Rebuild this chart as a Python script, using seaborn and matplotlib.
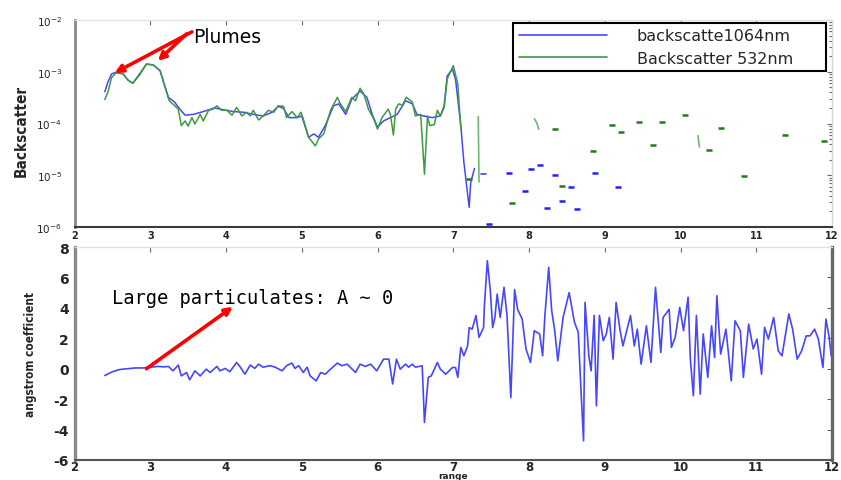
import matplotlib
matplotlib.use("Agg")
import matplotlib.pyplot as plt
import seaborn as sns
import pandas as pd
from matplotlib.lines import Line2D
from matplotlib.ticker import FixedLocator, LogLocator, NullFormatter

# ---------------- data ----------------
# backscatter at 1064 nm, continuous part
bs1064_range = [2.40, 2.44, 2.49, 2.55, 2.64, 2.71, 2.77, 2.86, 2.95, 3.04, 3.13, 3.19,
                3.24, 3.32, 3.39, 3.46, 3.57, 3.70, 3.85, 3.96, 4.10, 4.23, 4.36, 4.49,
                4.61, 4.69, 4.76, 4.83, 4.94, 5.00, 5.09, 5.16, 5.22, 5.31, 5.42, 5.49,
                5.58, 5.66, 5.77, 5.86, 5.93, 6.00, 6.08, 6.17, 6.26, 6.37, 6.46, 6.52,
                6.61, 6.72, 6.83, 6.88, 6.92, 6.99, 7.03, 7.10, 7.14, 7.21, 7.23, 7.28]
bs1064 = [4.1e-4, 6.3e-4, 9.1e-4, 9.8e-4, 9.1e-4, 6.8e-4, 6.0e-4, 9.1e-4, 1.41e-3, 1.35e-3,
          1.05e-3, 5.4e-4, 3.2e-4, 2.6e-4, 1.9e-4, 1.45e-4, 1.5e-4, 1.7e-4, 2.0e-4, 1.85e-4,
          1.7e-4, 1.65e-4, 1.5e-4, 1.4e-4, 1.65e-4, 2.15e-4, 1.95e-4, 1.3e-4, 1.3e-4, 1.4e-4,
          5.4e-5, 6.3e-5, 5.4e-5, 9.1e-5, 2.2e-4, 2.4e-4, 1.5e-4, 2.95e-4, 4.25e-4, 3.2e-4,
          1.5e-4, 8.5e-5, 1.12e-4, 1.3e-4, 1.5e-4, 2.75e-4, 2.4e-4, 1.5e-4, 1.4e-4, 1.3e-4,
          1.4e-4, 2.2e-4, 8.3e-4, 1.12e-3, 7.2e-4, 9.1e-5, 1.8e-5, 2.4e-6, 7.2e-6, 1.35e-5]

# backscatter at 532 nm, continuous part
bs532_range = [2.40, 2.44, 2.49, 2.55, 2.64, 2.71, 2.77, 2.86, 2.95, 3.04, 3.13, 3.19,
               3.25, 3.37, 3.41, 3.46, 3.50, 3.55, 3.59, 3.66, 3.70, 3.77, 3.83, 3.88,
               3.94, 4.01, 4.08, 4.14, 4.21, 4.27, 4.32, 4.36, 4.43, 4.49, 4.56, 4.63,
               4.69, 4.76, 4.80, 4.87, 4.94, 4.99, 5.02, 5.09, 5.18, 5.22, 5.29, 5.38,
               5.47, 5.51, 5.58, 5.66, 5.71, 5.77, 5.82, 5.88, 5.95, 6.00, 6.06, 6.14,
               6.17, 6.21, 6.24, 6.28, 6.33, 6.38, 6.46, 6.50, 6.57, 6.62, 6.66, 6.69,
               6.75, 6.79, 6.83, 6.88, 6.92, 7.00, 7.06, 7.10]
bs532 = [2.9e-4, 4.0e-4, 7.8e-4, 9.5e-4, 9.1e-4, 6.8e-4, 6.0e-4, 8.7e-4, 1.41e-3, 1.35e-3,
         1.05e-3, 5.4e-4, 2.75e-4, 1.9e-4, 9.1e-5, 1.12e-4, 8.9e-5, 1.3e-4, 9.8e-5, 1.5e-4,
         1.12e-4, 1.8e-4, 1.9e-4, 2.2e-4, 1.8e-4, 1.8e-4, 1.45e-4, 2.05e-4, 1.4e-4, 1.65e-4,
         1.4e-4, 1.8e-4, 1.17e-4, 1.4e-4, 1.8e-4, 1.65e-4, 2.2e-4, 2.15e-4, 1.3e-4, 1.7e-4,
         1.3e-4, 1.65e-4, 1.23e-4, 5.4e-5, 3.7e-5, 5.0e-5, 6.3e-5, 1.8e-4, 3.2e-4, 2.4e-4,
         1.7e-4, 3.2e-4, 2.75e-4, 4.8e-4, 3.7e-4, 1.9e-4, 1.23e-4, 7.8e-5, 1.3e-4, 1.9e-4,
         1.5e-4, 6.0e-5, 1.9e-4, 2.4e-4, 2.25e-4, 3.2e-4, 2.6e-4, 1.4e-4, 1.5e-4, 1.05e-5,
         1.4e-4, 9.1e-5, 9.5e-5, 1.8e-4, 1.4e-4, 2.05e-4, 7.2e-4, 1.32e-3, 5.8e-4, 8.0e-5]

# short fragments beyond the cloud edge
bs1064_frag_range = [7.36, 7.43]
bs1064_frag = [1.05e-5, 1.05e-5]
bs532_frag1_range = [7.33, 7.34]
bs532_frag1 = [1.35e-4, 7.4e-6]
bs532_frag2_range = [8.07, 8.10, 8.13]
bs532_frag2 = [1.23e-4, 1.05e-4, 7.8e-5]
bs532_frag3_range = [10.23, 10.25]
bs532_frag3 = [5.8e-5, 3.5e-5]

# isolated samples
bs1064_pts_range = [7.47, 7.74, 7.95, 8.03, 8.15, 8.24, 8.34, 8.43, 8.55, 8.64, 8.87, 9.17]
bs1064_pts = [1.15e-6, 1.1e-5, 5.0e-6, 1.35e-5, 1.6e-5, 2.35e-6, 1.02e-5, 3.2e-6, 6.0e-6,
              2.25e-6, 1.1e-5, 6.0e-6]
bs532_pts_range = [7.21, 7.77, 8.34, 8.43, 8.84, 9.10, 9.22, 9.45, 9.64, 9.76, 10.06, 10.37,
                   10.54, 10.84, 11.38, 11.89]
bs532_pts = [8.5e-6, 2.95e-6, 7.8e-5, 6.3e-6, 2.9e-5, 9.5e-5, 6.9e-5, 1.05e-4, 3.8e-5,
             1.05e-4, 1.45e-4, 3.1e-5, 8.1e-5, 9.5e-6, 5.9e-5, 4.5e-5]

# angstrom coefficient
ang_range = [2.40, 2.50, 2.60, 2.70, 2.80, 2.90, 3.00, 3.10, 3.18, 3.24, 3.30, 3.37, 3.41,
             3.48, 3.52, 3.59, 3.66, 3.74, 3.79, 3.88, 3.92, 3.99, 4.05, 4.14, 4.19, 4.25,
             4.32, 4.38, 4.43, 4.49, 4.58, 4.65, 4.74, 4.80, 4.87, 4.91, 4.96, 5.02, 5.07,
             5.11, 5.19, 5.25, 5.31, 5.38, 5.47, 5.53, 5.60, 5.71, 5.77, 5.84, 5.91, 5.99,
             6.08, 6.15, 6.20, 6.25, 6.30, 6.37, 6.41, 6.46, 6.50, 6.59, 6.62, 6.67, 6.71,
             6.79, 6.83, 6.90, 6.99, 7.03, 7.06, 7.10, 7.14, 7.19, 7.21, 7.25, 7.30, 7.34,
             7.40, 7.41, 7.45, 7.49, 7.52, 7.55, 7.58, 7.62, 7.67, 7.71, 7.76, 7.81, 7.85,
             7.91, 7.96, 8.02, 8.07, 8.14, 8.18, 8.21, 8.26, 8.30, 8.34, 8.38, 8.45, 8.53,
             8.60, 8.65, 8.69, 8.72, 8.74, 8.79, 8.82, 8.86, 8.89, 8.93, 8.98, 9.02, 9.06,
             9.11, 9.15, 9.20, 9.24, 9.34, 9.39, 9.43, 9.48, 9.55, 9.61, 9.67, 9.74, 9.77,
             9.85, 9.88, 9.93, 9.99, 10.04, 10.10, 10.13, 10.17, 10.21, 10.26, 10.30, 10.36,
             10.41, 10.45, 10.48, 10.53, 10.60, 10.67, 10.72, 10.79, 10.83, 10.90, 10.96,
             11.01, 11.07, 11.11, 11.16, 11.23, 11.29, 11.34, 11.43, 11.48, 11.54, 11.60,
             11.66, 11.71, 11.77, 11.82, 11.88, 11.92, 11.96, 11.99, 12.00]
angstrom = [-0.45, -0.20, -0.05, 0.00, 0.05, 0.05, 0.10, 0.15, 0.12, 0.15, -0.14, 0.24, -0.47,
            -0.25, -0.73, -0.14, -0.47, -0.03, -0.25, 0.15, -0.14, 0.02, -0.20, 0.41, 0.10, -0.36,
            0.24, 0.02, 0.30, 0.10, 0.20, 0.10, -0.14, 0.20, 0.37, 0.02, 0.20, -0.25, 0.10,
            -0.47, -0.80, -0.25, -0.36, -0.03, 0.37, 0.20, 0.30, -0.25, 0.30, 0.15, 0.30, -0.14,
            0.63, 0.63, -1.00, 0.63, -0.03, 0.30, 0.10, 0.30, 0.10, 0.19, -3.53, -0.57, -0.47,
            0.41, -0.03, -0.36, 0.08, 0.08, -0.57, 1.40, 0.85, 1.50, 2.70, 2.60, 3.50, 2.06,
            2.70, 4.03, 7.10, 5.10, 2.70, 3.37, 4.90, 3.37, 5.35, 3.50, -1.90, 5.20, 3.90,
            3.26, 1.30, 0.41, 2.50, 2.28, 0.85, 3.50, 6.66, 3.80, 2.50, 0.52, 3.37, 5.00,
            3.05, 2.40, -1.78, -4.74, 4.36, 0.85, -0.14, 3.50, -2.44, 3.50, 1.84, 2.28, 3.37,
            0.63, 4.36, 2.60, 1.50, 3.50, 1.50, 2.60, 0.30, 2.82, 0.41, 5.35, 1.07, 3.37,
            3.90, 1.40, 2.06, 4.03, 2.50, 4.70, 0.63, -1.78, 3.50, -1.67, 2.28, -0.57,
            2.82, 0.74, 4.80, 0.96, 2.60, -0.80, 3.15, 2.50, -0.57, 2.93, 1.30,
            1.95, -0.36, 2.72, 1.95, 3.37, 1.18, 0.85, 3.60, 2.60, 0.63, 1.18,
            2.16, 2.16, 2.60, 1.95, 0.08, 3.26, 2.16, 0.85, 0.96]

x_ticks = [2, 3, 4, 5, 6, 7, 8, 9, 10, 11, 12]
bs_ticks = [1e-6, 1e-5, 1e-4, 1e-3, 1e-2]
bs_tick_labels = ["10$^{-6}$", "10$^{-5}$", "10$^{-4}$", "10$^{-3}$", "10$^{-2}$"]
ang_ticks = [-6, -4, -2, 0, 2, 4, 6, 8]
legend_labels = ["backscatte1064nm", "Backscatter 532nm"]

# ---------------- styling ----------------
sns.set_theme(style="white")
plt.rcParams["font.family"] = ["DejaVu Sans"]
plt.rcParams["axes.unicode_minus"] = False

BLUE = "#4646ff"
GREEN = "#3f9a3f"

fig = plt.figure(figsize=(8.41, 4.81), dpi=100)
W, H = 841.0, 481.0
x0, x1 = 74.5, 832.0
ax1 = fig.add_axes([x0 / W, 1 - 228 / H, (x1 - x0) / W, (228 - 21) / H])
ax2 = fig.add_axes([x0 / W, 1 - 461 / H, (x1 - x0) / W, (461 - 248) / H])

# ---------------- top panel: backscatter ----------------
ax1.set_yscale("log")
sns.lineplot(x=bs1064_range, y=bs1064, ax=ax1, color=BLUE, lw=1.1, sort=False, estimator=None)
sns.lineplot(x=bs532_range, y=bs532, ax=ax1, color=GREEN, lw=1.1, sort=False, estimator=None)
sns.lineplot(x=bs1064_frag_range, y=bs1064_frag, ax=ax1, color=BLUE, lw=1.2, sort=False, estimator=None)
for fx, fy in [(bs532_frag1_range, bs532_frag1), (bs532_frag2_range, bs532_frag2),
               (bs532_frag3_range, bs532_frag3)]:
    sns.lineplot(x=fx, y=fy, ax=ax1, color="#6fb86f", lw=1.2, sort=False, estimator=None)
ax1.plot(bs1064_pts_range, bs1064_pts, ls="none", marker="_", ms=5, mew=1.8, color="#2020ff")
ax1.plot(bs532_pts_range, bs532_pts, ls="none", marker="_", ms=5, mew=1.8, color="#1e7a1e")

ax1.set_xlim(2, 12)
ax1.set_ylim(1e-6, 1e-2)
ax1.xaxis.set_major_locator(FixedLocator(x_ticks))
ax1.set_xticklabels([str(t) for t in x_ticks], fontsize=7, fontweight="bold")
ax1.yaxis.set_major_locator(FixedLocator(bs_ticks))
ax1.set_yticklabels(bs_tick_labels, fontsize=7.5)
ax1.yaxis.set_minor_locator(LogLocator(base=10, subs=range(2, 10), numticks=20))
ax1.yaxis.set_minor_formatter(NullFormatter())
ax1.tick_params(axis="both", which="both", direction="in", top=True, right=True,
                color="#666666", width=0.8)
ax1.tick_params(axis="both", which="major", length=3.5)
ax1.tick_params(axis="y", which="minor", length=2.2)
ax1.tick_params(axis="x", pad=2)
ax1.tick_params(axis="y", pad=9)
ax1.set_xlabel("")
ax1.set_ylabel("Backscatter", fontsize=11, fontweight="bold", fontstretch="condensed")
ax1.yaxis.set_label_coords((29 - x0) / (x1 - x0), 0.47)

for side, col, lw in [("left", "#8a8a8a", 2.0), ("bottom", "#3a3a3a", 1.5),
                      ("top", "#e2e2e2", 1.0), ("right", "#d8d8d8", 1.0)]:
    ax1.spines[side].set_color(col)
    ax1.spines[side].set_linewidth(lw)

handles = [Line2D([], [], color=BLUE, lw=1.2), Line2D([], [], color=GREEN, lw=1.2)]
leg = ax1.legend(handles, legend_labels, loc="upper left",
                 bbox_to_anchor=(0.579, 0.70, 0.413, 0.286), mode="expand",
                 fontsize=11.5, handlelength=5.5, handletextpad=1.9, borderpad=0.35,
                 labelspacing=0.45, fancybox=False, framealpha=1.0, borderaxespad=0)
leg.get_frame().set_edgecolor("black")
leg.get_frame().set_linewidth(1.5)

arrow_kw = dict(arrowstyle="-|>", color="red", lw=2.6, mutation_scale=11,
                shrinkA=0, shrinkB=0)
ax1.annotate("", xy=(2.53, 9.5e-4), xytext=(3.55, 5.9e-3), arrowprops=arrow_kw)
ax1.annotate("", xy=(3.10, 1.62e-3), xytext=(3.48, 5.4e-3), arrowprops=arrow_kw)
ax1.text(3.56, 3.8e-3, "Plumes", fontsize=13.5, ha="left", va="baseline", color="black")

# ---------------- bottom panel: angstrom coefficient ----------------
sns.lineplot(x=ang_range, y=angstrom, ax=ax2, color=BLUE, lw=1.2, sort=False, estimator=None)
ax2.set_xlim(2, 12)
ax2.set_ylim(-6, 8)
ax2.xaxis.set_major_locator(FixedLocator(x_ticks))
ax2.set_xticklabels([str(t) for t in x_ticks], fontsize=8.5, fontweight="bold")
ax2.yaxis.set_major_locator(FixedLocator(ang_ticks))
ax2.set_yticklabels([str(t) for t in ang_ticks], fontsize=10, fontweight="bold")
ax2.tick_params(axis="both", which="major", direction="in", top=True, right=True,
                length=3.5, color="#666666", width=0.8)
ax2.tick_params(axis="x", pad=0.0)
ax2.tick_params(axis="y", pad=4)
ax2.set_xlabel("range", fontsize=6.5, fontweight="bold", va="bottom")
ax2.xaxis.set_label_coords(0.5, (461 - 481.4) / 213)
ax2.set_ylabel("angstrom coefficient", fontsize=8.5, fontweight="bold", fontstretch="condensed")
ax2.yaxis.set_label_coords((37 - x0) / (x1 - x0), 0.5)

for side, col, lw in [("left", "#8a8a8a", 2.4), ("bottom", "#555555", 1.5),
                      ("top", "#e2e2e2", 1.0), ("right", "#666666", 2.4)]:
    ax2.spines[side].set_color(col)
    ax2.spines[side].set_linewidth(lw)

ax2.annotate("", xy=(4.09, 4.07), xytext=(2.95, 0.0), arrowprops=arrow_kw)
ax2.text(2.50, 4.30, "Large particulates: A ~ 0", fontsize=13.5, family="DejaVu Sans Mono",
         ha="left", va="baseline", color="black")

fig.savefig("out.png", dpi=100, facecolor="white")
